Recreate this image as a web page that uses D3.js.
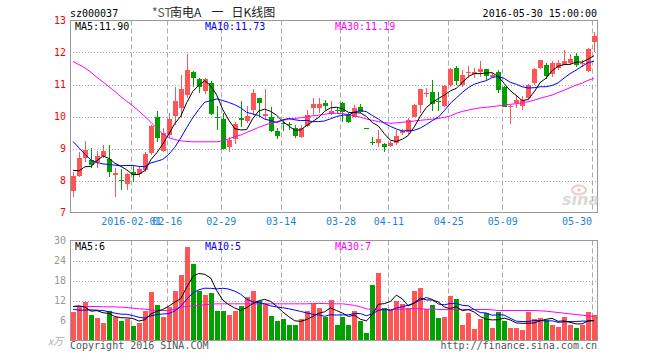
<!DOCTYPE html>
<html>
<head>
<meta charset="utf-8">
<script src="https://cdn.jsdelivr.net/npm/d3@7"></script>
<style>
body { margin: 0; background: #fff; }
svg text { font-family: "DejaVu Sans Mono", monospace; font-size: 10px; }
</style>
</head>
<body>
<div class="chart"></div>
<script>
var code = "sz000037";
var stamp = "2016-05-30 15:00:00";

var open = [7.66,8.15,8.70,8.64,8.59,8.77,8.68,8.16,8.02,7.90,
    8.28,8.20,8.33,8.87,9.97,8.93,9.42,10.02,10.26,10.67,
    11.40,11.16,10.80,11.05,9.99,9.91,9.06,9.29,9.96,9.87,
    10.20,10.57,10.02,9.97,9.56,9.80,9.76,9.63,9.37,9.70,
    10.26,10.26,10.43,10.08,10.19,10.43,10.08,10.00,10.29,9.64,
    9.21,9.17,9.13,9.08,9.18,9.48,9.53,9.99,10.36,10.71,
    10.77,10.47,10.33,10.98,11.53,10.98,11.36,11.32,11.40,11.47,
    11.24,11.40,10.93,10.29,10.43,10.33,10.57,11.05,11.53,11.60,
    11.32,11.53,11.60,11.66,11.88,11.64,11.43,12.33];
var high = [8.28,8.90,9.24,9.01,8.93,9.11,9.11,8.39,8.36,8.25,
    8.44,8.44,8.90,9.73,10.18,9.63,10.10,10.91,11.31,11.95,
    11.43,11.19,11.21,11.12,10.33,10.10,9.35,9.84,10.48,10.33,
    10.85,10.59,10.86,10.30,9.63,9.92,9.84,9.73,9.73,10.20,
    10.57,10.57,10.53,10.49,10.30,10.46,10.10,10.36,10.39,9.64,
    9.35,9.58,9.17,9.22,9.58,9.61,9.94,10.38,10.85,10.88,
    11.14,10.77,10.98,11.53,11.57,11.45,11.57,11.53,11.74,11.50,
    11.36,11.45,10.95,10.36,10.67,10.64,11.03,11.53,11.78,11.66,
    11.74,11.78,12.07,11.95,11.97,11.78,12.14,12.64];
var low = [7.50,8.12,8.58,8.39,8.39,8.70,8.12,7.50,7.71,7.71,
    7.94,8.12,8.28,8.80,9.21,8.90,9.37,9.73,9.94,10.57,
    10.93,10.72,10.70,10.05,9.58,8.97,8.90,9.14,9.68,9.79,
    10.05,9.98,9.89,9.53,9.30,9.56,9.58,9.32,9.34,9.66,
    10.05,10.12,10.20,10.05,10.08,9.84,9.79,9.97,10.10,9.62,
    9.11,9.04,8.88,9.04,9.11,9.42,9.45,9.97,10.12,10.62,
    10.18,10.18,10.29,10.91,10.98,10.91,11.19,11.19,11.24,11.14,
    11.19,10.74,10.29,9.77,10.26,10.20,10.51,10.98,11.50,11.16,
    11.24,11.45,11.60,11.60,11.55,11.55,11.40,12.02];
var close = [8.15,8.70,8.96,8.49,8.77,8.93,8.28,8.25,7.97,8.21,
    8.18,8.35,8.82,9.70,9.32,9.49,9.92,10.48,10.85,11.45,
    11.21,10.91,11.16,10.08,9.97,8.99,9.27,9.77,9.89,10.02,
    10.72,10.43,10.08,9.56,9.39,9.78,9.73,9.39,9.63,10.05,
    10.39,10.39,10.33,10.18,10.17,10.15,9.84,10.26,10.15,9.62,
    9.19,9.29,9.04,9.17,9.40,9.56,9.89,10.36,10.85,10.73,
    10.39,10.45,10.95,11.50,11.12,11.29,11.40,11.40,11.47,11.26,
    11.31,10.83,10.30,10.33,10.53,10.51,10.98,11.50,11.76,11.26,
    11.66,11.68,11.74,11.81,11.60,11.68,12.12,12.51];

var ma5 = [8.32,8.30,8.43,8.44,8.62,8.77,8.69,8.54,8.44,8.33,
    8.18,8.19,8.31,8.65,8.87,9.14,9.45,9.78,10.01,10.44,
    10.78,10.98,11.12,10.96,10.67,10.22,9.89,9.62,9.58,9.59,
    9.93,10.17,10.23,10.16,10.04,9.85,9.71,9.57,9.58,9.72,
    9.84,9.97,10.16,10.27,10.29,10.24,10.13,10.12,10.11,10.00,
    9.81,9.70,9.46,9.26,9.22,9.29,9.41,9.68,10.01,10.28,
    10.44,10.56,10.67,10.80,10.88,11.06,11.25,11.34,11.34,11.36,
    11.37,11.25,11.03,10.81,10.66,10.50,10.53,10.77,11.06,11.20,
    11.43,11.57,11.62,11.63,11.70,11.70,11.79,11.90];
var ma10 = [9.22,9.02,8.82,8.64,8.56,8.52,8.50,8.48,8.46,8.47,
    8.47,8.44,8.43,8.55,8.60,8.66,8.82,9.04,9.33,9.66,
    9.96,10.22,10.45,10.49,10.55,10.50,10.44,10.37,10.27,10.13,
    10.08,10.03,9.92,9.87,9.81,9.89,9.94,9.90,9.87,9.88,
    9.84,9.84,9.86,9.93,10.00,10.04,10.05,10.14,10.19,10.15,
    10.03,9.92,9.79,9.69,9.61,9.55,9.56,9.57,9.64,9.75,
    9.87,9.98,10.18,10.41,10.58,10.75,10.90,11.01,11.07,11.12,
    11.22,11.25,11.19,11.07,11.01,10.93,10.89,10.90,10.93,10.93,
    10.97,11.05,11.20,11.34,11.45,11.57,11.68,11.73];
var ma30 = [11.72,11.62,11.52,11.38,11.22,11.08,10.93,10.78,10.62,10.47,
    10.33,10.17,10.00,9.82,9.63,9.45,9.34,9.28,9.24,9.22,
    9.21,9.21,9.21,9.21,9.21,9.24,9.30,9.37,9.42,9.50,
    9.58,9.66,9.73,9.79,9.84,9.88,9.91,9.94,9.96,9.99,
    10.02,10.04,10.07,10.10,10.10,10.09,10.06,10.02,9.98,9.92,
    9.88,9.84,9.81,9.79,9.80,9.82,9.84,9.86,9.88,9.90,
    9.92,9.94,9.97,10.02,10.10,10.16,10.20,10.24,10.27,10.29,
    10.31,10.33,10.36,10.38,10.40,10.43,10.46,10.51,10.57,10.62,
    10.67,10.75,10.82,10.90,10.98,11.04,11.13,11.19];

// volume, x10k
var volume = [8.5,10.2,11.5,7.8,6.8,5.4,9.0,7.0,6.0,6.5,
    4.5,5.2,9.0,14.5,10.8,7.0,10.2,15.0,19.8,28.0,
    22.9,14.8,13.8,14.2,9.0,9.0,7.8,8.8,10.5,13.2,
    15.0,12.0,11.0,7.5,6.0,6.6,4.8,4.8,6.4,8.8,
    11.0,9.8,7.0,12.3,4.8,7.2,4.8,9.0,6.0,2.4,
    16.8,20.2,9.9,9.2,12.0,11.0,9.7,14.8,15.9,9.5,
    10.8,6.9,7.2,13.3,12.6,4.8,8.4,3.6,6.6,8.4,
    3.9,8.7,6.0,3.9,3.9,3.3,8.7,6.6,6.9,6.3,
    4.8,4.2,7.2,4.8,3.9,4.8,8.7,7.8];
var volMa5 = [10.2,10.4,10.0,8.8,8.96,8.34,8.1,7.2,6.84,6.78,
    6.6,5.84,6.24,7.94,8.8,9.3,10.3,11.5,12.56,16.0,
    19.18,20.1,19.86,18.74,14.94,12.16,10.76,9.76,9.02,9.86,
    11.06,11.9,12.34,11.74,10.3,8.62,7.18,5.94,5.72,6.28,
    7.16,8.16,8.6,9.78,8.98,8.22,7.22,7.62,6.36,5.88,
    7.8,10.88,11.06,11.7,13.62,12.46,10.36,11.34,12.68,12.18,
    12.14,11.58,10.06,9.54,10.16,8.96,9.26,8.54,7.2,6.36,
    6.18,6.24,6.72,6.18,5.28,5.16,5.16,5.28,5.88,6.36,
    6.66,5.76,5.88,5.46,4.98,4.98,5.88,6.0];
var volMa10 = [9.4,9.1,9.1,9.2,9.1,9.0,8.6,8.2,7.9,7.87,
    7.47,6.97,6.72,7.39,7.79,7.95,8.07,8.87,10.25,12.4,
    14.24,15.2,15.68,15.65,15.47,15.67,15.43,14.81,13.88,12.4,
    11.61,11.33,11.05,10.38,10.08,9.84,9.54,9.14,8.73,8.29,
    7.89,7.67,7.27,7.75,7.63,7.69,7.69,8.11,8.07,7.43,
    8.01,9.05,9.34,9.03,9.75,10.13,10.62,11.2,12.19,12.9,
    12.3,10.97,10.7,11.11,11.17,10.55,10.42,9.3,8.37,8.26,
    7.57,7.75,7.63,6.69,5.82,5.67,5.7,6.0,6.03,5.82,
    5.91,5.46,5.58,5.67,5.67,5.82,5.82,5.94];
var volMa30 = [10.2,10.2,10.2,10.2,10.2,10.1,10.1,10.1,10.0,9.9,
    9.7,9.5,9.4,9.2,9.0,9.0,9.0,9.4,10.0,10.2,
    10.4,10.5,10.7,10.9,11.0,11.0,11.0,11.0,11.0,11.0,
    11.0,11.0,11.0,11.0,11.0,11.0,11.0,11.0,11.0,11.0,
    11.1,11.1,11.1,11.0,11.0,11.0,10.8,10.5,10.1,9.5,
    9.3,9.3,9.3,9.3,9.3,9.4,9.5,9.6,9.5,9.4,
    9.4,9.3,9.3,9.3,9.3,9.3,9.3,9.3,9.3,9.3,
    9.2,9.0,9.0,9.0,9.0,9.0,9.0,9.0,8.9,8.8,
    8.6,8.4,8.2,8.0,7.8,7.6,7.4,7.2];

var tickIndex = [10, 16, 25, 35, 45, 53, 63, 72, 87];
var tickLabels = ["2016-02-01", "02-16", "02-29", "03-14", "03-28", "04-11", "04-25", "05-09", "05-30"];
var priceTicks = [7, 8, 9, 10, 11, 12, 13];
var volTicks = [6, 12, 18, 24, 30];
var maNames = ["MA5", "MA10", "MA30"];
var maColors = ["#000000", "#0000ff", "#ff00ff"];

var up = "#ff5555", down = "#00a000";
var left = 70, right = 597;

var svg = d3.select(".chart").append("svg")
    .attr("width", 660)
    .attr("height", 360);

var x = d3.scaleBand().domain(d3.range(close.length)).range([left, right]);
var cx = function(i) { return x(i) + 3; };
var y = d3.scaleLinear().domain([7, 13]).range([212.5, 20.5]);
var yv = d3.scaleLinear().domain([0, 30]).range([340.5, 240.5]);

var colorOf = function(i) { return close[i] >= open[i] ? up : down; };

// header
svg.append("text").attr("x", left).attr("y", 17).attr("fill", "#000").text(code);
svg.append("text").attr("x", right).attr("y", 17).attr("text-anchor", "end").attr("fill", "#000").text(stamp);
var title = svg.append("text").attr("y", 17)
    .style("font-family", "'Noto Sans CJK SC', sans-serif").style("font-size", "12px").attr("fill", "#222");
title.append("tspan").attr("x", 152).attr("fill", "#555").text("*ST");
title.append("tspan").attr("x", 170).text("南电A");
title.append("tspan").attr("x", 211.5).text("一");
title.append("tspan").attr("x", 231.5).text("日K线图");

// panels: grid + frame + left labels
var panel = function(scale, ticks, top, bottom, labelColor) {
    var g = svg.append("g");
    g.selectAll("line.h").data(ticks.slice(1, -1)).enter().append("line")
        .attr("x1", left).attr("x2", right)
        .attr("y1", function(d) { return Math.round(scale(d)) + 0.5; })
        .attr("y2", function(d) { return Math.round(scale(d)) + 0.5; })
        .attr("stroke", "#aaa").attr("stroke-dasharray", "1,2");
    g.selectAll("line.v").data(tickIndex).enter().append("line")
        .attr("x1", function(d) { return Math.round(x(d)) + 1.5; })
        .attr("x2", function(d) { return Math.round(x(d)) + 1.5; })
        .attr("y1", top).attr("y2", bottom)
        .attr("stroke", "#aaa").attr("stroke-dasharray", "5,3");
    g.append("rect").attr("x", left + 0.5).attr("y", top)
        .attr("width", right - left).attr("height", bottom - top)
        .attr("fill", "none").attr("stroke", "#999");
    var ax = g.append("g").attr("transform", "translate(" + left + ",0)")
        .call(d3.axisLeft(scale).tickValues(ticks).tickSize(0).tickPadding(4).tickFormat(d3.format("d")));
    ax.select(".domain").remove();
    ax.selectAll("text").attr("fill", labelColor)
        .style("font-family", "'DejaVu Sans Mono', monospace").style("font-size", "10px");
    return g;
};

panel(y, priceTicks, 20.5, 212.5, "#ff0000");
panel(yv, volTicks, 240.5, 340.5, "#999");

// date labels (first two overlap, as on the original)
svg.selectAll("text.date").data(tickIndex).enter().append("text")
    .attr("class", "date")
    .attr("x", function(d, k) { return k == tickIndex.length - 1 ? x(d) + 1 : x(d) + 1.5; })
    .attr("y", 225)
    .attr("text-anchor", function(d, k) { return k == tickIndex.length - 1 ? "end" : "middle"; })
    .attr("fill", "#1a86d0")
    .text(function(d, k) { return tickLabels[k]; });

// watermark
var wm = svg.append("g").attr("opacity", 0.55);
wm.append("ellipse").attr("cx", 579).attr("cy", 190).attr("rx", 7).attr("ry", 4.5)
    .attr("fill", "none").attr("stroke", "#e8a0a0").attr("stroke-width", 2);
wm.append("circle").attr("cx", 579).attr("cy", 190).attr("r", 1.8).attr("fill", "#e8a0a0");
wm.append("text").attr("x", 562).attr("y", 205)
    .style("font-family", "'DejaVu Sans', sans-serif").style("font-size", "16px")
    .style("font-style", "italic").style("font-weight", "bold")
    .attr("fill", "#bbb").text("sina");

// clip
svg.append("clipPath").attr("id", "clipPrice").append("rect")
    .attr("x", left + 1).attr("y", 21).attr("width", right - left - 1).attr("height", 191);
svg.append("clipPath").attr("id", "clipVol").append("rect")
    .attr("x", left + 1).attr("y", 241).attr("width", right - left - 1).attr("height", 99);

// candles
var candles = svg.append("g").attr("clip-path", "url(#clipPrice)").attr("shape-rendering", "crispEdges");
candles.selectAll("line").data(close).enter().append("line")
    .attr("x1", function(d, i) { return Math.round(cx(i)) + 0.5; })
    .attr("x2", function(d, i) { return Math.round(cx(i)) + 0.5; })
    .attr("y1", function(d, i) { return y(high[i]); })
    .attr("y2", function(d, i) { return y(low[i]); })
    .attr("stroke", function(d, i) { return colorOf(i); });
candles.selectAll("rect").data(close).enter().append("rect")
    .attr("x", function(d, i) { return Math.round(x(i)) + 1; })
    .attr("width", 5)
    .attr("y", function(d, i) { return y(Math.max(open[i], close[i])); })
    .attr("height", function(d, i) { return Math.max(1, Math.abs(y(open[i]) - y(close[i]))); })
    .attr("fill", function(d, i) { return colorOf(i); });

// volume bars
var bars = svg.append("g").attr("clip-path", "url(#clipVol)").attr("shape-rendering", "crispEdges");
bars.selectAll("rect").data(volume).enter().append("rect")
    .attr("x", function(d, i) { return Math.round(x(i)) + 1; })
    .attr("width", 5)
    .attr("y", function(d) { return yv(d); })
    .attr("height", function(d) { return yv(0) - yv(d); })
    .attr("fill", function(d, i) { return colorOf(i); });

// MA lines, MA30 drawn first so MA5 sits on top
var drawLines = function(series, scale, clip) {
    var g = svg.append("g").attr("clip-path", "url(#" + clip + ")");
    for (var k = series.length - 1; k >= 0; --k) {
        g.append("path")
            .attr("d", d3.line().x(function(d, i) { return cx(i); }).y(function(d) { return scale(d); })(series[k]))
            .attr("fill", "none")
            .attr("stroke", maColors[k])
            .attr("stroke-width", 1);
    }
};
drawLines([ma5, ma10, ma30], y, "clipPrice");
drawLines([volMa5, volMa10, volMa30], yv, "clipVol");

// MA legends
var legendX = [75, 205, 335];
var priceLast = [ma5, ma10, ma30].map(function(s) { return s[s.length - 1].toFixed(2); });
var volLast = [volMa5, volMa10, volMa30].map(function(s) { return Math.floor(s[s.length - 1]); });
maNames.forEach(function(n, k) {
    svg.append("text").attr("x", legendX[k]).attr("y", 30).attr("fill", maColors[k]).text(n + ":" + priceLast[k]);
    svg.append("text").attr("x", legendX[k]).attr("y", 250).attr("fill", maColors[k]).text(n + ":" + volLast[k]);
});

// footer
svg.append("text").attr("x", 48).attr("y", 345).attr("fill", "#aaa")
    .style("font-style", "italic").style("font-family", "'Noto Sans CJK SC', sans-serif").text("x万");
svg.append("text").attr("x", left).attr("y", 349).attr("fill", "#555").text("Copyright 2016 SINA.COM");
svg.append("text").attr("x", right).attr("y", 349).attr("text-anchor", "end").attr("fill", "#555").text("http://finance.sina.com.cn");
</script>
</body>
</html>
